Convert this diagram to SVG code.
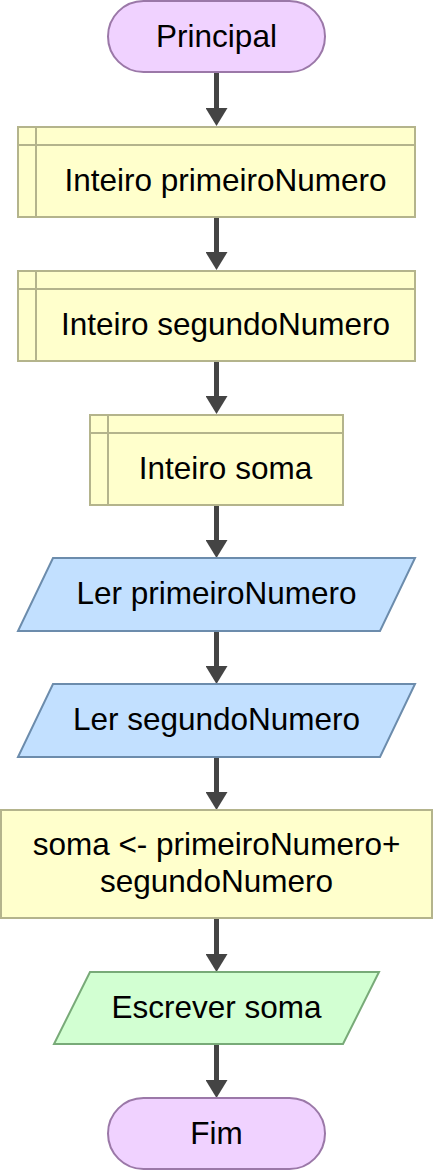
<svg xmlns="http://www.w3.org/2000/svg" width="433" height="1171" viewBox="0 0 433 1171">
<style>
text{font-family:"Liberation Sans",Arial,sans-serif;font-size:31.5px;fill:#000;text-anchor:middle}
.term{fill:#f0d2ff;stroke:#9b78a8;stroke-width:2}
.decl{fill:#ffffcc;stroke:#b4b48c;stroke-width:2}
.in{fill:#c2e0ff;stroke:#6c8cac;stroke-width:2}
.out{fill:#d2ffd2;stroke:#78aa78;stroke-width:2}
.conn line{stroke:#444;stroke-width:5;marker-end:url(#ah)}
</style>
<defs>
<marker id="ah" markerUnits="userSpaceOnUse" markerWidth="18" markerHeight="22" refX="8" refY="11" orient="auto">
<path d="M0,0 L18,11 L0,22 z" fill="#444"/>
</marker>
</defs>
<g class="conn">
<line x1="216.5" y1="73" x2="216.5" y2="116"/>
<line x1="216.5" y1="217" x2="216.5" y2="260"/>
<line x1="216.5" y1="361" x2="216.5" y2="404"/>
<line x1="216.5" y1="505" x2="216.5" y2="548"/>
<line x1="216.5" y1="631" x2="216.5" y2="674"/>
<line x1="216.5" y1="757" x2="216.5" y2="800"/>
<line x1="216.5" y1="918" x2="216.5" y2="962"/>
<line x1="216.5" y1="1044" x2="216.5" y2="1088"/>
</g>
<g id="principal">
<rect class="term" x="108" y="1" width="217" height="71" rx="35.5"/>
<text x="216.5" y="47">Principal</text>
</g>
<g id="decl1">
<rect class="decl" x="18" y="127" width="397" height="90"/>
<line class="decl" x1="36" y1="127" x2="36" y2="217"/>
<line class="decl" x1="18" y1="145" x2="415" y2="145"/>
<text x="225.5" y="191">Inteiro primeiroNumero</text>
</g>
<g id="decl2">
<rect class="decl" x="18" y="271" width="397" height="90"/>
<line class="decl" x1="36" y1="271" x2="36" y2="361"/>
<line class="decl" x1="18" y1="289" x2="415" y2="289"/>
<text x="225.5" y="335">Inteiro segundoNumero</text>
</g>
<g id="decl3">
<rect class="decl" x="90" y="415" width="253" height="90"/>
<line class="decl" x1="108" y1="415" x2="108" y2="505"/>
<line class="decl" x1="90" y1="433" x2="343" y2="433"/>
<text x="225.5" y="479">Inteiro soma</text>
</g>
<g id="ler1">
<polygon class="in" points="53,558 415,558 380,631 18,631"/>
<text x="216.5" y="604">Ler primeiroNumero</text>
</g>
<g id="ler2">
<polygon class="in" points="53,684 415,684 380,757 18,757"/>
<text x="216.5" y="730">Ler segundoNumero</text>
</g>
<g id="atrib">
<rect class="decl" x="1" y="810" width="431" height="108"/>
<text x="216.5" y="855">soma &lt;- primeiroNumero+</text>
<text x="216.5" y="892">segundoNumero</text>
</g>
<g id="escrever">
<polygon class="out" points="90,972 379,972 343,1044 54,1044"/>
<text x="216.5" y="1018">Escrever soma</text>
</g>
<g id="fim">
<rect class="term" x="108" y="1098" width="217" height="71" rx="35.5"/>
<text x="216.5" y="1144">Fim</text>
</g>
</svg>
